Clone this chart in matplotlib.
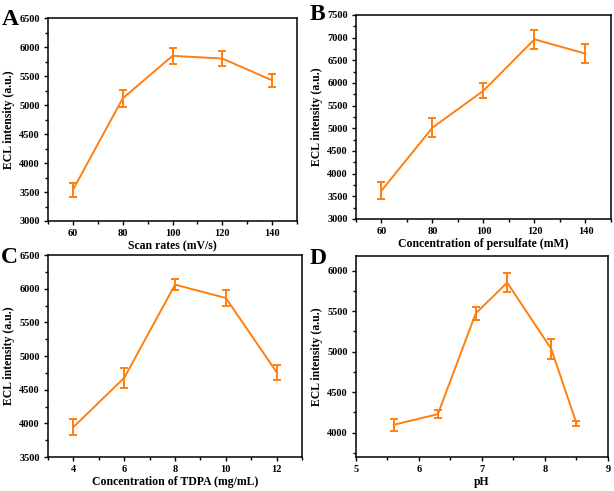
import matplotlib
matplotlib.use("Agg")
import matplotlib.pyplot as plt
from matplotlib.ticker import MultipleLocator

plt.rcParams["font.family"] = ["Liberation Serif", "DejaVu Serif"]
plt.rcParams["font.weight"] = "bold"

ORANGE = "#ff7f0f"

# --- data ---
scan_rate = [60, 80, 100, 120, 140]
scan_ecl = [3537, 5114, 5848, 5801, 5426]
scan_err = [115, 145, 142, 133, 107]

persulfate = [60, 80, 100, 120, 140]
pers_ecl = [3625, 5015, 5831, 6963, 6647]
pers_err = [187, 206, 165, 213, 202]

tdpa = [4, 6, 8, 10, 12]
tdpa_ecl = [3945, 4676, 6060, 5862, 4760]
tdpa_err = [116, 153, 86, 121, 111]

ph = [5.6, 6.3, 6.9, 7.4, 8.1, 8.5]
ph_ecl = [4098, 4229, 5471, 5852, 5033, 4115]
ph_err = [74, 53, 76, 115, 119, 35]

W, H = 614, 491

panels = [
    # letter, rect, letter top (px), x, y, err, xlabel, xlim, ylim, xmaj
    ("A", [0.0782, 0.5499, 0.4055, 0.4134], 9, scan_rate, scan_ecl, scan_err,
     "Scan rates (mV/s)", (50, 150), (3000, 6500), 20),
    ("B", [0.5798, 0.5540, 0.4153, 0.4155], 4, persulfate, pers_ecl, pers_err,
     "Concentration of persulfate (mM)", (50, 150), (3000, 7500), 20),
    ("C", [0.0782, 0.0692, 0.4137, 0.4114], 247, tdpa, tdpa_ecl, tdpa_err,
     "Concentration of TDPA (mg/mL)", (3, 13), (3500, 6500), 2),
    ("D", [0.5798, 0.0692, 0.4104, 0.4094], 248, ph, ph_ecl, ph_err,
     "pH", (5, 9), (3700, 6180), 1),
]

fig = plt.figure(figsize=(W / 100, H / 100), dpi=100)

for letter, rect, ltop, x, y, err, xlabel, xlim, ylim, xmaj in panels:
    ax = fig.add_axes(rect)
    ax.errorbar(x, y, yerr=err, color=ORANGE, linewidth=1.4,
                elinewidth=1.4, capsize=3, capthick=1.4)
    ax.set_xlim(*xlim)
    ax.set_ylim(*ylim)
    ax.xaxis.set_major_locator(MultipleLocator(xmaj))
    ax.xaxis.set_minor_locator(MultipleLocator(xmaj / 2))
    ax.yaxis.set_major_locator(MultipleLocator(500))
    ax.yaxis.set_minor_locator(MultipleLocator(250))
    ax.tick_params(which="both", direction="out", top=False, right=False,
                   labelsize=7.5, width=1.0, pad=3)
    ax.tick_params(which="major", length=3)
    ax.tick_params(which="minor", length=2)
    for lab in ax.get_xticklabels() + ax.get_yticklabels():
        lab.set_fontweight("bold")
    for spine in ax.spines.values():
        spine.set_linewidth(1.1)
    ax.set_xlabel(xlabel, fontsize=8.5, fontweight="bold", labelpad=1.5)
    ax.set_ylabel("ECL intensity (a.u.)", fontsize=8.5, fontweight="bold", labelpad=3)
    fig.text(rect[0] - 0.076, 1 - ltop / H, letter, fontsize=17,
             fontweight="bold", va="top", ha="left")

fig.savefig("out.png", dpi=100)
